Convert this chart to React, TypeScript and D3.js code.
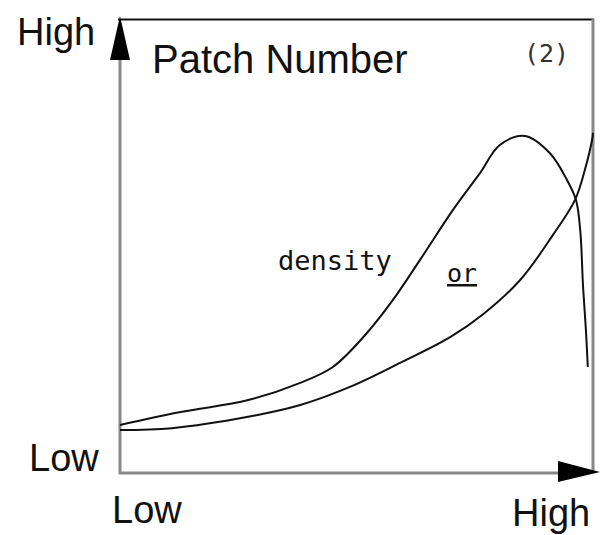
import React, { useEffect, useRef } from 'react';
import * as d3 from 'd3';

// schematic curves, 0..100 on both axes
const densityX = [0, 13.1, 27.1, 38.1, 45, 52.2, 57.7, 63.4, 70.4, 76.1, 80.3, 85.6, 90.9, 94.5, 96.4, 97.3, 97.9, 98.5, 98.9];
const densityY = [10.6, 13.5, 16.1, 19.9, 23.4, 30.9, 38.2, 47, 58.1, 66.2, 72.4, 74.4, 70.6, 64.7, 60.3, 53.6, 41.1, 31.6, 23.4];

const expX = [0, 11, 27.1, 38.1, 48.6, 59.2, 69.8, 76.7, 84.6, 91.5, 96.2, 98.3, 99.8, 100];
const expY = [9.5, 9.9, 12.4, 15, 19, 24.3, 30, 35, 42.6, 52.5, 60.3, 67, 73.5, 75.1];

const axisLabels = { yHigh: 'High', yLow: 'Low', xLow: 'Low', xHigh: 'High' };
const title = 'Patch Number';
const panel = '(2)';

const App = () => {
	const ref = useRef<SVGSVGElement>(null);

	useEffect(() => {
		const svg = d3.select(ref.current);
		svg.selectAll('*').remove();

		const left = 120, right = 593, top = 20, bottom = 473;
		const x = d3.scaleLinear().domain([0, 100]).range([left, right]);
		const y = d3.scaleLinear().domain([0, 100]).range([bottom, top]);

		const sans = "'Liberation Sans', Arial, sans-serif";
		const mono = "'DejaVu Sans Mono', monospace";

		// frame: top and right
		svg.append('line')
			.attr('x1', left - 2).attr('x2', right + 1)
			.attr('y1', top - 0.5).attr('y2', top - 0.5)
			.attr('stroke', '#111').attr('stroke-width', 2);
		svg.append('line')
			.attr('x1', right).attr('x2', right)
			.attr('y1', top - 1).attr('y2', bottom)
			.attr('stroke', '#888').attr('stroke-width', 3);

		// axes
		svg.append('line')
			.attr('x1', left).attr('x2', left)
			.attr('y1', top + 30).attr('y2', bottom + 1)
			.attr('stroke', '#888').attr('stroke-width', 3);
		svg.append('line')
			.attr('x1', left - 1).attr('x2', right - 30)
			.attr('y1', bottom).attr('y2', bottom)
			.attr('stroke', '#888').attr('stroke-width', 3);

		// arrow heads
		svg.append('path')
			.attr('d', `M${left},${top - 4} L${left + 10},${top + 40} L${left - 10},${top + 40} Z`)
			.attr('fill', '#000');
		svg.append('path')
			.attr('d', `M${right + 7},${bottom - 1} L${right - 35},${bottom - 12} L${right - 35},${bottom + 9} Z`)
			.attr('fill', '#000');

		const line = d3.line<[number, number]>()
			.x(d => x(d[0]))
			.y(d => y(d[1]))
			.curve(d3.curveCatmullRom.alpha(0.5));

		const series = [
			densityX.map((v, i) => [v, densityY[i]] as [number, number]),
			expX.map((v, i) => [v, expY[i]] as [number, number]),
		];

		svg.selectAll('path.curve')
			.data(series)
			.enter()
			.append('path')
			.attr('class', 'curve')
			.attr('d', d => line(d))
			.attr('fill', 'none')
			.attr('stroke', '#111')
			.attr('stroke-width', 2);

		const text = (tx: number, ty: number, s: string, size: number, family: string) =>
			svg.append('text')
				.attr('x', tx).attr('y', ty)
				.attr('font-family', family)
				.attr('font-size', size)
				.attr('fill', '#111')
				.text(s);

		text(17, 45, axisLabels.yHigh, 38, sans);
		text(29, 471, axisLabels.yLow, 38, sans);
		text(112, 523, axisLabels.xLow, 38, sans);
		text(512, 526, axisLabels.xHigh, 38, sans);
		text(152, 73, title, 40, sans);
		text(524, 62, panel, 25, mono).attr('fill', '#333');
		text(278, 270, 'density', 27, mono);
		text(447, 282, 'or', 25, mono).attr('text-decoration', 'underline');
	}, []);

	return (
		<svg
			ref={ref}
			width={603}
			height={535}
			style={{ position: 'absolute', left: 0, top: 0, background: '#fff' }}
		/>
	);
};

export default App;
